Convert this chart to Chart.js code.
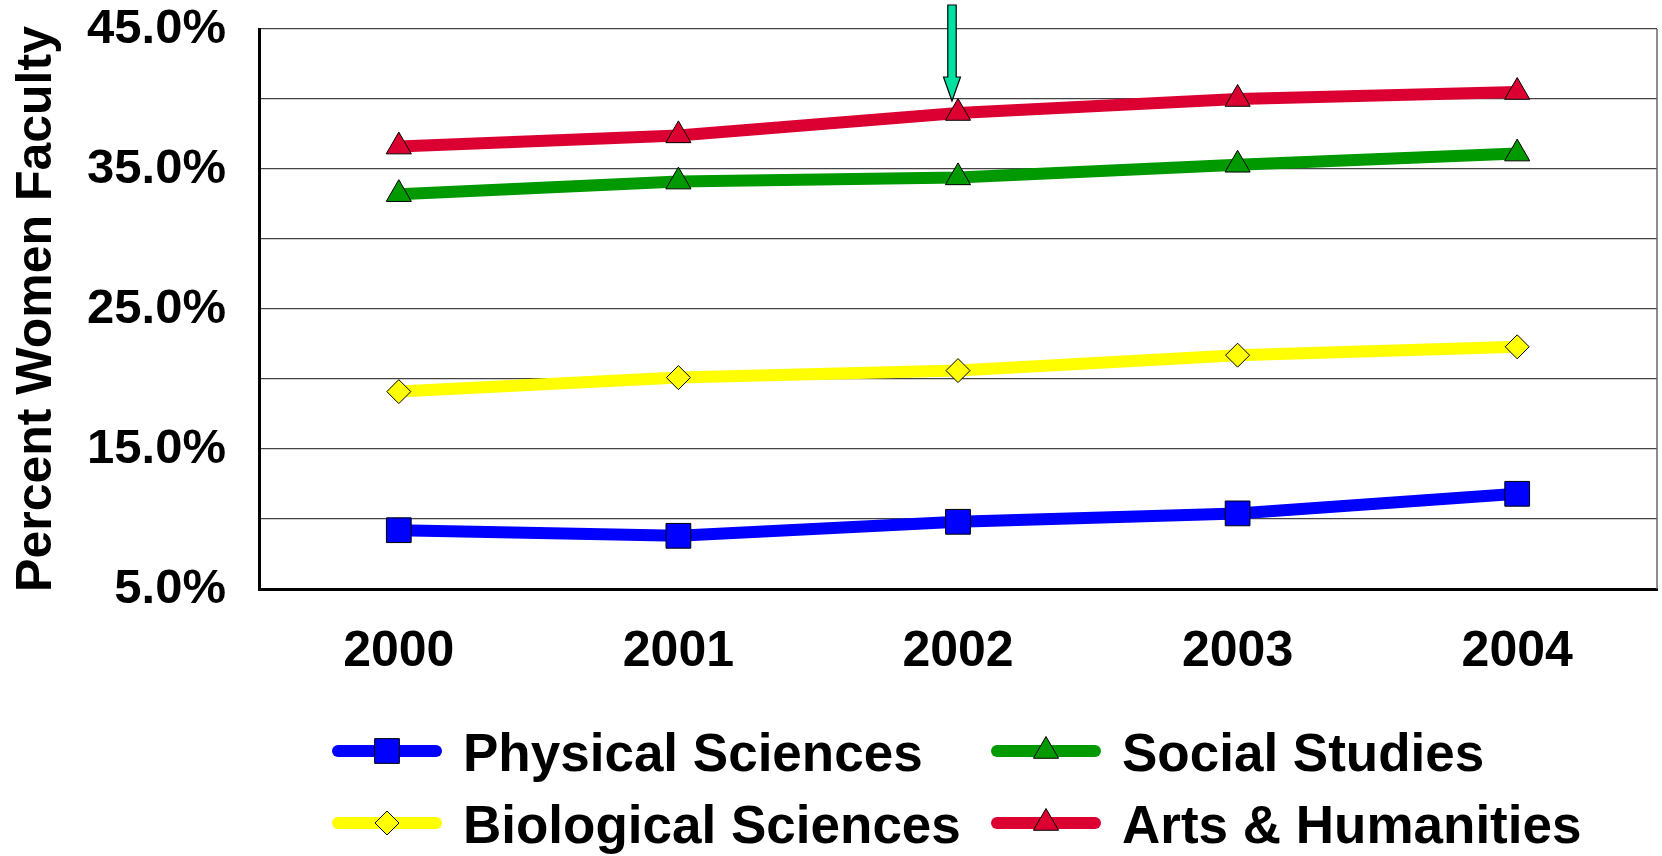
<!DOCTYPE html>
<html>
<head>
<meta charset="utf-8">
<script src="https://cdn.jsdelivr.net/npm/chart.js@4/dist/chart.umd.min.js"></script>
<style>
  html, body { margin: 0; padding: 0; background: #ffffff; }
  canvas { display: block; }
</style>
</head>
<body>
<canvas id="chart" width="1662" height="856"></canvas>
<script>
// ---- data ----
const years = ['2000', '2001', '2002', '2003', '2004'];
const physicalSciences   = [9.2, 8.8, 9.8, 10.4, 11.8];
const socialStudies      = [33.2, 34.1, 34.4, 35.3, 36.1];
const biologicalSciences = [19.1, 20.1, 20.6, 21.7, 22.3];
const artsHumanities     = [36.6, 37.4, 39.0, 40.0, 40.5];
const labelledTicks      = [5, 15, 25, 35, 45];
const yTitle = 'Percent Women Faculty';
const highlightYear = '2002';

const FONT = '"Liberation Sans", Arial, Helvetica, sans-serif';

// ---- plugins ----
// thin frame line on the right side of the plot area
const frameRight = {
  id: 'frameRight',
  beforeDatasetsDraw(chart) {
    const { ctx, chartArea: a } = chart;
    ctx.save();
    ctx.strokeStyle = '#666666';
    ctx.lineWidth = 1.5;
    ctx.beginPath();
    ctx.moveTo(a.right, a.top);
    ctx.lineTo(a.right, a.bottom);
    ctx.stroke();
    ctx.restore();
  }
};

// downward arrow pointing at the Arts & Humanities point of the highlighted year
const pointerArrow = {
  id: 'pointerArrow',
  afterDatasetsDraw(chart) {
    const idx = years.indexOf(highlightYear);
    const meta = chart.getDatasetMeta(3);
    const pt = meta.data[idx];
    if (!pt) return;
    const tipX = pt.x - 6, tipY = pt.y - 12;
    const shaftHalf = 4.2, headHalf = 8.5, headH = 24, shaftLen = 72;
    const ctx = chart.ctx;
    ctx.save();
    ctx.beginPath();
    ctx.moveTo(tipX, tipY);
    ctx.lineTo(tipX - headHalf, tipY - headH);
    ctx.lineTo(tipX - shaftHalf, tipY - headH);
    ctx.lineTo(tipX - shaftHalf, tipY - headH - shaftLen);
    ctx.lineTo(tipX + shaftHalf, tipY - headH - shaftLen);
    ctx.lineTo(tipX + shaftHalf, tipY - headH);
    ctx.lineTo(tipX + headHalf, tipY - headH);
    ctx.closePath();
    ctx.fillStyle = '#00E0A0';
    ctx.fill();
    ctx.strokeStyle = '#000000';
    ctx.lineWidth = 1.2;
    ctx.lineJoin = 'miter';
    ctx.stroke();
    ctx.restore();
  }
};

// two-column legend below the axis
const gridLegend = {
  id: 'gridLegend',
  afterDraw(chart) {
    const ctx = chart.ctx;
    const colX = [332, 991];
    const rowY = [751, 823];
    const sampleW = 110, textGap = 131;
    chart.data.datasets.forEach((ds, i) => {
      const x = colX[i % 2];
      const y = rowY[Math.floor(i / 2)];
      ctx.save();
      // line sample
      ctx.strokeStyle = ds.borderColor;
      ctx.lineWidth = 12;
      ctx.lineCap = 'round';
      ctx.beginPath();
      ctx.moveTo(x + 6, y);
      ctx.lineTo(x + sampleW - 6, y);
      ctx.stroke();
      // marker
      ctx.fillStyle = ds.pointBackgroundColor;
      ctx.strokeStyle = ds.pointBorderColor;
      ctx.lineWidth = ds.pointBorderWidth;
      ctx.lineCap = 'butt';
      Chart.helpers.drawPoint(ctx, {
        pointStyle: ds.pointStyle,
        radius: ds.pointRadius,
        rotation: 0,
        borderWidth: ds.pointBorderWidth
      }, x + sampleW / 2, y);
      // label
      ctx.fillStyle = '#000000';
      ctx.font = 'bold 53px ' + FONT;
      ctx.textBaseline = 'middle';
      ctx.textAlign = 'left';
      ctx.fillText(ds.label, x + textGap, y + 5);
      ctx.restore();
    });
  }
};

// ---- chart ----
function series(label, values, color, style, radius) {
  return {
    label,
    data: values,
    borderColor: color,
    backgroundColor: color,
    borderWidth: 12,
    tension: 0,
    pointStyle: style,
    pointRadius: radius,
    pointHoverRadius: radius,
    pointBackgroundColor: color,
    pointBorderColor: '#000000',
    pointBorderWidth: 1
  };
}

new Chart(document.getElementById('chart'), {
  type: 'line',
  data: {
    labels: years,
    datasets: [
      series('Physical Sciences', physicalSciences, '#0000FF', 'rect', 17.5),
      series('Social Studies', socialStudies, '#009900', 'triangle', 14.5),
      series('Biological Sciences', biologicalSciences, '#FFFF00', 'rectRot', 12),
      series('Arts & Humanities', artsHumanities, '#DC0032', 'triangle', 14.5)
    ]
  },
  options: {
    responsive: false,
    devicePixelRatio: 1,
    animation: false,
    layout: {
      autoPadding: false,
      padding: { top: 29, right: 5, left: 0, bottom: 0 }
    },
    plugins: {
      legend: { display: false },
      tooltip: { enabled: false },
      title: { display: false }
    },
    scales: {
      x: {
        type: 'category',
        offset: true,
        grid: { display: false, drawTicks: false },
        border: { display: true, color: '#000000', width: 3 },
        ticks: {
          color: '#000000',
          font: { family: FONT, size: 50, weight: 'bold', lineHeight: 1.2 },
          padding: 33,
          maxRotation: 0,
          autoSkip: false
        },
        afterFit(scale) {
          scale.height = 267;
          scale.paddingLeft = 0;
          scale.paddingRight = 0;
        }
      },
      y: {
        min: 5,
        max: 45,
        grid: { color: '#444444', lineWidth: 1.2, drawTicks: false },
        border: { display: true, color: '#000000', width: 3 },
        ticks: {
          stepSize: 5,
          color: '#000000',
          padding: 33,
          font: { family: FONT, size: 49, weight: 'bold', lineHeight: 1.0 },
          callback: (v) => labelledTicks.includes(v) ? v.toFixed(1) + '%' : ''
        },
        title: {
          display: true,
          text: yTitle,
          color: '#000000',
          font: { family: FONT, size: 50, weight: 'bold', lineHeight: 1.0 },
          padding: { top: 12, bottom: 0 }
        },
        afterFit(scale) {
          scale.width = 259;
          scale.paddingTop = 0;
          scale.paddingBottom = 0;
        }
      }
    }
  },
  plugins: [frameRight, pointerArrow, gridLegend]
});
</script>
</body>
</html>
